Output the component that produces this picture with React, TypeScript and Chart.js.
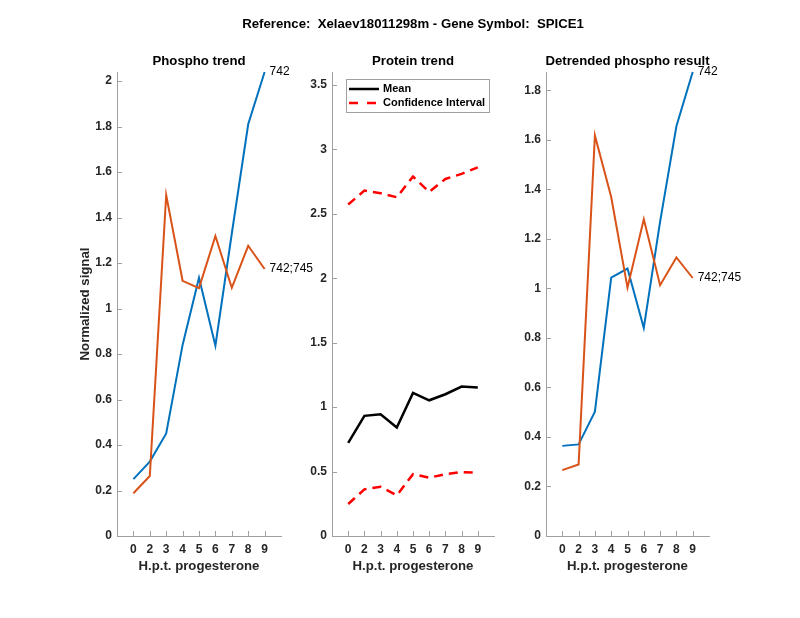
import { useEffect, useRef } from "react";
import { Chart, registerables } from "chart.js";

Chart.register(...registerables);

// ---------- data ----------
const mainTitle = "Reference:  Xelaev18011298m - Gene Symbol:  SPICE1";
const timeLabels = ["0", "2", "3", "4", "5", "6", "7", "8", "9"];

const phospho742 = [0.25, 0.327, 0.451, 0.84, 1.135, 0.837, 1.33, 1.81, 2.04];
const phospho742745 = [0.188, 0.264, 1.499, 1.122, 1.09, 1.319, 1.091, 1.276, 1.174];

const proteinMean = [0.723, 0.932, 0.945, 0.842, 1.11, 1.053, 1.1, 1.159, 1.152];
const proteinUpper = [2.572, 2.68, 2.66, 2.628, 2.789, 2.67, 2.77, 2.81, 2.86];
const proteinLower = [0.248, 0.362, 0.382, 0.315, 0.48, 0.452, 0.48, 0.496, 0.49];

const detrended742 = [0.364, 0.37, 0.502, 1.044, 1.08, 0.84, 1.27, 1.655, 1.874];
const detrended742745 = [0.266, 0.289, 1.618, 1.369, 1.003, 1.279, 1.013, 1.125, 1.042];

const phosphoTicks = [0, 0.2, 0.4, 0.6, 0.8, 1, 1.2, 1.4, 1.6, 1.8, 2];
const proteinTicks = [0, 0.5, 1, 1.5, 2, 2.5, 3, 3.5];
const detrendedTicks = [0, 0.2, 0.4, 0.6, 0.8, 1, 1.2, 1.4, 1.6, 1.8];

// ---------- style ----------
const FONT = "'Liberation Sans', Arial, Helvetica, sans-serif";
const AXIS = "#a0a0a0";
const TEXT = "#262626";
const BLUE = "#0072BD";
const ORANGE = "#D95319";
const W = 800;
const H = 618;
const PLOT_TOP = 72;
const PLOT_BOTTOM = 536;
const Y_W = 40;
const X_H = 40;

const toPoints = (vals: number[]) => vals.map((v, i) => ({ x: i + 1, y: v }));

type Panel = {
  id: string;
  left: number;
  right: number;
  yMax: number;
  yTicks: number[];
  title: string;
  yTitle?: string;
  mainTitle?: boolean;
  legend?: boolean;
  datasets: any[];
};

const panels: Panel[] = [
  {
    id: "p1",
    left: 117,
    right: 281,
    yMax: 2.04,
    yTicks: phosphoTicks,
    title: "Phospho trend",
    yTitle: "Normalized signal",
    datasets: [
      { data: toPoints(phospho742745), borderColor: ORANGE, borderWidth: 2, endLabel: "742;745" },
      { data: toPoints(phospho742), borderColor: BLUE, borderWidth: 2, endLabel: "742" },
    ],
  },
  {
    id: "p2",
    left: 332,
    right: 494,
    yMax: 3.6,
    yTicks: proteinTicks,
    title: "Protein trend",
    mainTitle: true,
    legend: true,
    datasets: [
      { data: toPoints(proteinMean), borderColor: "#000000", borderWidth: 2.5 },
      { data: toPoints(proteinUpper), borderColor: "#ff0000", borderWidth: 2.5, borderDash: [9, 6] },
      { data: toPoints(proteinLower), borderColor: "#ff0000", borderWidth: 2.5, borderDash: [9, 6] },
    ],
  },
  {
    id: "p3",
    left: 546,
    right: 709,
    yMax: 1.874,
    yTicks: detrendedTicks,
    title: "Detrended phospho result",
    datasets: [
      { data: toPoints(detrended742745), borderColor: ORANGE, borderWidth: 2, endLabel: "742;745" },
      { data: toPoints(detrended742), borderColor: BLUE, borderWidth: 2, endLabel: "742" },
    ],
  },
];

function makeOverlay(p: Panel) {
  return {
    id: "overlay_" + p.id,
    afterDraw(chart: any) {
      const ctx = chart.ctx;
      const { left, right, top, bottom } = chart.chartArea;
      const xs = chart.scales.x;
      const ys = chart.scales.y;
      ctx.save();
      // inward tick marks
      ctx.strokeStyle = AXIS;
      ctx.lineWidth = 1;
      ctx.beginPath();
      xs.ticks.forEach((t: any) => {
        const px = Math.round(xs.getPixelForValue(t.value)) + 0.5;
        ctx.moveTo(px, bottom);
        ctx.lineTo(px, bottom - 5);
      });
      ys.ticks.forEach((t: any) => {
        const py = Math.round(ys.getPixelForValue(t.value)) + 0.5;
        ctx.moveTo(left, py);
        ctx.lineTo(left + 5, py);
      });
      ctx.stroke();

      // subplot title
      ctx.fillStyle = "#000000";
      ctx.textAlign = "center";
      ctx.textBaseline = "middle";
      ctx.font = `bold 13.2px ${FONT}`;
      const cx = (left + right) / 2;
      ctx.fillText(p.title, cx, top - 11);

      if (p.mainTitle) {
        ctx.fillText(mainTitle, cx, 24);
      }

      // end-of-line labels
      ctx.font = `12px ${FONT}`;
      ctx.textAlign = "left";
      ctx.fillStyle = "#000000";
      chart.data.datasets.forEach((ds: any, i: number) => {
        if (!ds.endLabel) return;
        const meta = chart.getDatasetMeta(i);
        const el = meta.data[meta.data.length - 1];
        ctx.fillText(ds.endLabel, el.x + 5, el.y);
      });

      // legend
      if (p.legend) {
        const bx = left + 14;
        const by = top + 7;
        const bw = 143;
        const bh = 33;
        ctx.fillStyle = "#ffffff";
        ctx.fillRect(bx, by, bw, bh);
        ctx.strokeStyle = "#a0a0a0";
        ctx.lineWidth = 1;
        ctx.strokeRect(bx + 0.5, by + 0.5, bw, bh);
        const items = [
          { label: "Mean", color: "#000000", dash: [] as number[] },
          { label: "Confidence Interval", color: "#ff0000", dash: [9, 9] },
        ];
        items.forEach((it, k) => {
          const y = by + 10 + k * 14;
          ctx.strokeStyle = it.color;
          ctx.lineWidth = 2.5;
          ctx.setLineDash(it.dash);
          ctx.beginPath();
          ctx.moveTo(bx + 3, y);
          ctx.lineTo(bx + 33, y);
          ctx.stroke();
          ctx.setLineDash([]);
          ctx.fillStyle = "#000000";
          ctx.font = `bold 11px ${FONT}`;
          ctx.textAlign = "left";
          ctx.textBaseline = "middle";
          ctx.fillText(it.label, bx + 37, y);
        });
      }
      ctx.restore();
    },
  };
}

function PanelChart({ p }: { p: Panel }) {
  const ref = useRef<HTMLCanvasElement | null>(null);
  useEffect(() => {
    if (!ref.current) return;
    const chart = new Chart(ref.current, {
      type: "line",
      data: {
        datasets: p.datasets.map((d) => ({
          ...d,
          fill: false,
          pointRadius: 0,
          tension: 0,
          clip: false,
        })),
      },
      options: {
        responsive: false,
        animation: false,
        events: [],
        layout: {
          padding: {
            left: p.left - Y_W,
            right: W - p.right,
            top: PLOT_TOP,
            bottom: H - PLOT_BOTTOM - X_H,
          },
        },
        plugins: {
          legend: { display: false },
          tooltip: { enabled: false },
          title: { display: false },
        },
        scales: {
          x: {
            type: "linear",
            min: 0,
            max: 10,
            afterBuildTicks: (s: any) => {
              s.ticks = timeLabels.map((_, i) => ({ value: i + 1 }));
            },
            afterFit: (s: any) => {
              s.height = X_H;
            },
            grid: { display: false, drawTicks: false, tickLength: 0 },
            border: { display: true, color: AXIS, width: 1 },
            ticks: {
              autoSkip: false,
              maxRotation: 0,
              padding: 6,
              color: TEXT,
              font: { family: FONT, size: 12, weight: "bold" },
              callback: (v: any) => timeLabels[Math.round(Number(v)) - 1],
            },
            title: {
              display: true,
              text: "H.p.t. progesterone",
              color: TEXT,
              font: { family: FONT, size: 13.2, weight: "bold" },
              padding: { top: 0, bottom: 2 },
            },
          },
          y: {
            type: "linear",
            min: 0,
            max: p.yMax,
            afterBuildTicks: (s: any) => {
              s.ticks = p.yTicks.map((v) => ({ value: v }));
            },
            afterFit: (s: any) => {
              s.width = Y_W;
            },
            grid: { display: false, drawTicks: false, tickLength: 0 },
            border: { display: true, color: AXIS, width: 1 },
            ticks: {
              padding: 5,
              color: TEXT,
              font: { family: FONT, size: 12, weight: "bold" },
              callback: (v: any) => String(+Number(v).toFixed(2)),
            },
            title: {
              display: !!p.yTitle,
              text: p.yTitle || "",
              color: TEXT,
              font: { family: FONT, size: 13.2, weight: "bold" },
              padding: { top: 0, bottom: 0 },
            },
          },
        },
      } as any,
      plugins: [makeOverlay(p)],
    });
    return () => chart.destroy();
  }, [p]);
  return (
    <canvas
      ref={ref}
      width={W}
      height={H}
      style={{ position: "absolute", left: 0, top: 0, width: W, height: H }}
    />
  );
}

export default function App() {
  return (
    <div style={{ position: "absolute", left: 0, top: 0, width: W, height: H, background: "#ffffff" }}>
      {panels.map((p) => (
        <PanelChart key={p.id} p={p} />
      ))}
    </div>
  );
}
